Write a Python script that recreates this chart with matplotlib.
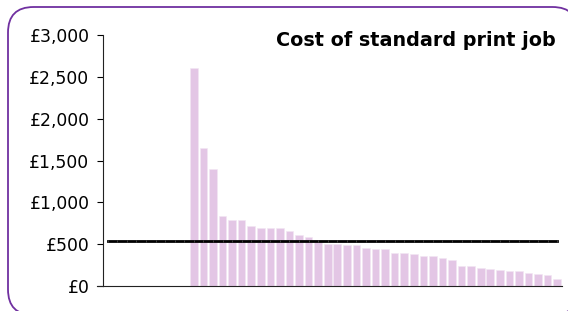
import matplotlib
matplotlib.use("Agg")
import matplotlib.pyplot as plt
from matplotlib.patches import FancyBboxPatch
from matplotlib.ticker import FuncFormatter

plt.rcParams['font.family'] = ['DejaVu Sans']

# 48 categories; the first 9 have no bar
n_empty = 9
bar_values = [2600, 1650, 1400, 840, 790, 790, 715, 690, 690, 690, 660, 615, 585, 550,
              505, 500, 490, 490, 460, 440, 440, 390, 390, 380, 360, 360, 330, 305,
              235, 235, 215, 207, 195, 185, 185, 155, 140, 130, 85]
categories = list(range(n_empty + len(bar_values)))
series_values = [0] * n_empty + bar_values
benchmark = [540] * len(categories)
y_ticks = [0, 500, 1000, 1500, 2000, 2500, 3000]
title = "Cost of standard print job"

fig = plt.figure(figsize=(5.68, 3.11), dpi=100)

# rounded border
border = FancyBboxPatch((8 / 568, -4 / 311), 570 / 568, 308 / 311,
                        boxstyle="round,pad=0,rounding_size=0.045",
                        transform=fig.transFigure, facecolor='white',
                        edgecolor='#7030A0', linewidth=1.3, zorder=-5,
                        mutation_aspect=568 / 311)
fig.patches.append(border)

ax = fig.add_axes([103 / 568, 25 / 311, 459 / 568, 251 / 311])
ax.set_zorder(2)
ax.set_facecolor('none')

ax.bar(categories, series_values, width=0.8, color='#E3C6E5', edgecolor='#F3E6F3',
       linewidth=0.4, zorder=2)
ax.plot(categories, benchmark, color='black', linewidth=2.0, zorder=3,
        marker='|', markersize=2.0, markeredgewidth=0.5, markeredgecolor='#555555')

ax.set_xlim(-0.5, len(categories) - 0.5)
ax.set_ylim(0, 3000)
ax.set_yticks(y_ticks)
ax.yaxis.set_major_formatter(FuncFormatter(lambda v, p: "£{:,.0f}".format(v)))
ax.tick_params(axis='y', direction='out', length=4.3, width=0.8, labelsize=12.4,
               pad=5.5, colors='black')
ax.set_xticks([])
for s in ['top', 'right']:
    ax.spines[s].set_visible(False)
ax.spines['left'].set_linewidth(0.8)
ax.spines['bottom'].set_linewidth(0.8)
ax.spines['left'].set_color('#222222')
ax.spines['bottom'].set_color('#222222')
# extend the x-axis line leftwards like the reference
ax.plot([-1.12, -0.5], [0, 0], color='#222222', linewidth=0.8, clip_on=False)

fig.text(556 / 568, 1 - 40 / 311, title, ha='right', va='center',
         fontsize=13.8, fontweight='bold', color='black')

fig.savefig("out.png", dpi=100)
